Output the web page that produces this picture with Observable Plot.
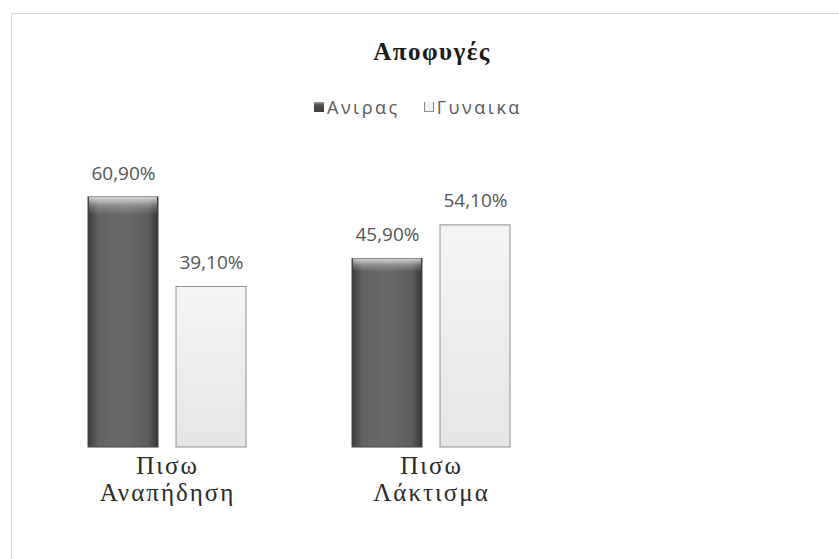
<!DOCTYPE html>
<html>
<head>
<meta charset="utf-8">
<script src="https://cdn.jsdelivr.net/npm/d3@7"></script>
<script src="https://cdn.jsdelivr.net/npm/@observablehq/plot@0.6"></script>
<style>
  html, body { margin: 0; padding: 0; background: #fff; }
  #wrap { position: relative; width: 839px; height: 559px; overflow: hidden; background: #fff; }
  #frame { position: absolute; left: 11px; top: 13px; width: 900px; height: 600px; border: 1.5px solid #d9d9d9; box-sizing: border-box; }
  #header { position: relative; height: 130px; }
  #title { position: absolute; left: 0; width: 864px; top: 37px; line-height: 30px; text-align: center; font-family: "Liberation Serif", "DejaVu Serif", serif; font-weight: bold; font-size: 25px; color: #1a1a1a; letter-spacing: 1.5px; }
  #legend { position: absolute; top: 96px; left: 314px; line-height: 22px; font-family: "Open Sans", "Liberation Sans", sans-serif; font-size: 18px; letter-spacing: 2.5px; color: #595959; display: flex; align-items: center; }
  .sw { display: inline-block; width: 10px; height: 10px; margin-right: 3px; box-sizing: border-box; }
  .item { display: flex; align-items: center; margin-right: 24px; }
  #chart { position: absolute; left: 0; top: 130px; }
  #chart g[aria-label="fx-axis tick label"] { letter-spacing: 2px; }
</style>
</head>
<body>
<div id="wrap">
  <div id="frame"></div>
  <div id="header">
    <div id="title">Αποφυγές</div>
    <div id="legend"></div>
  </div>
  <div id="chart"></div>
</div>
<script>
const categories = ["Πισω Αναπήδηση", "Πισω Λάκτισμα"];
const series = ["Ανιρας", "Γυναικα"];
const valuesMen = [60.9, 45.9];
const valuesWomen = [39.1, 54.1];
const valueLabelsMen = ["60,90%", "45,90%"];
const valueLabelsWomen = ["39,10%", "54,10%"];

const data = [];
categories.forEach((c, i) => {
  data.push({category: c, series: series[0], value: valuesMen[i], label: valueLabelsMen[i]});
  data.push({category: c, series: series[1], value: valuesWomen[i], label: valueLabelsWomen[i]});
});

// legend
const legend = document.getElementById("legend");
const swStyles = [
  "background: linear-gradient(to bottom, #a0a0a0 0, #505050 30%, #3c3c3c 100%);",
  "background: #f2f2f2; border: 1.5px solid #8a8a8a; border-top: none;"
];
series.forEach((s, i) => {
  const it = document.createElement("span");
  it.className = "item";
  it.innerHTML = `<span class="sw" style="${swStyles[i]}"></span><span>${s}</span>`;
  legend.appendChild(it);
});

const chart = Plot.plot({
  width: 839,
  height: 429,
  marginLeft: 35,
  marginRight: 276,
  marginTop: 29.6,
  marginBottom: 112,
  fx: {domain: categories, paddingInner: 0.4, paddingOuter: 0.2, label: null},
  x: {domain: series, paddingInner: 0.208, paddingOuter: 0, axis: null},
  y: {domain: [0, 70], axis: null},
  color: {domain: series, range: ["url(#gDark)", "url(#gLight)"]},
  marks: [
    Plot.axisFx({
      anchor: "bottom",
      tickSize: 0,
      tickPadding: 7,
      fontSize: 25,
      lineHeight: 1.08,
      tickFormat: d => d.replace(" ", "\n"),
      fontFamily: "Liberation Serif, DejaVu Serif, serif",
      fill: "#2a2a2a",
      label: null
    }),
    Plot.barY(data, {
      fx: "category", x: "series", y: "value",
      fill: "series",
      stroke: d => d.series === series[1] ? "#8f8f8f" : "#454545",
      strokeWidth: 1
    }),
    // top bevel highlight on the dark bars
    Plot.barY(data.filter(d => d.series === series[0]), {
      fx: "category", x: "series", y: "value",
      fill: "url(#gTop)",
      insetLeft: 1, insetRight: 1
    }),
    Plot.text(data, {
      fx: "category", x: "series", y: "value",
      text: "label",
      dy: -24,
      fontSize: 19,
      fill: "#555",
      fontFamily: "Open Sans, Liberation Sans, sans-serif",
      style: "letter-spacing: 1px;"
    })
  ]
});

// gradient definitions used by the bar fills
const ns = "http://www.w3.org/2000/svg";
const defs = document.createElementNS(ns, "defs");
defs.innerHTML = `
  <linearGradient id="gDark" x1="0" x2="1" y1="0" y2="0">
    <stop offset="0" stop-color="#3a3a3a"/>
    <stop offset="0.15" stop-color="#626262"/>
    <stop offset="0.5" stop-color="#6a6a6a"/>
    <stop offset="0.85" stop-color="#5e5e5e"/>
    <stop offset="1" stop-color="#383838"/>
  </linearGradient>
  <linearGradient id="gLight" x1="0" x2="0" y1="0" y2="1">
    <stop offset="0" stop-color="#f4f4f4"/>
    <stop offset="1" stop-color="#e6e6e6"/>
  </linearGradient>
  <linearGradient id="gTop" x1="0" x2="0" y1="0" y2="1">
    <stop offset="0" stop-color="#ffffff" stop-opacity="0.75"/>
    <stop offset="0.035" stop-color="#ffffff" stop-opacity="0.25"/>
    <stop offset="0.07" stop-color="#ffffff" stop-opacity="0"/>
    <stop offset="1" stop-color="#ffffff" stop-opacity="0"/>
  </linearGradient>`;
chart.insertBefore(defs, chart.firstChild);
document.getElementById("chart").appendChild(chart);
</script>
</body>
</html>
